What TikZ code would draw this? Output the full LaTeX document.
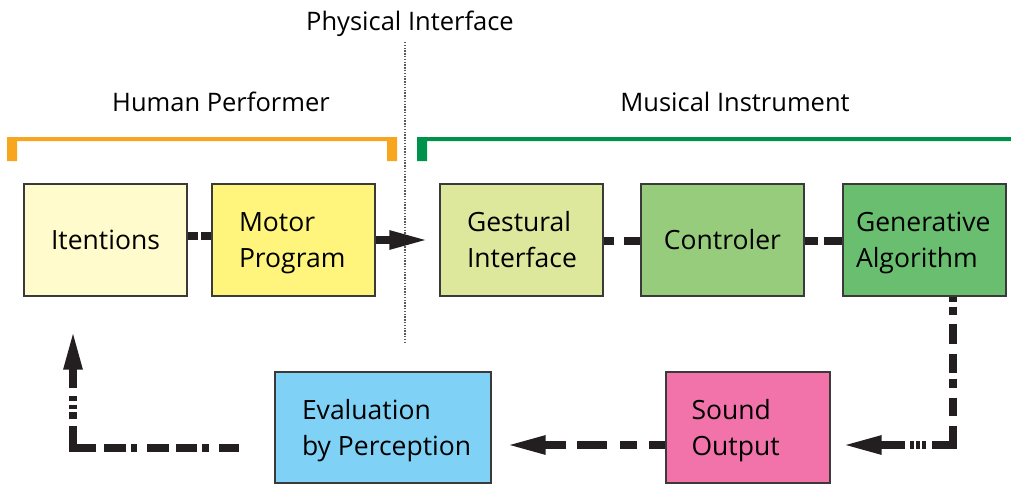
\documentclass[tikz,border=0pt]{standalone}
\usepackage{fontspec}
\setmainfont{Open Sans}
\usetikzlibrary{arrows.meta}
\definecolor{cIt}{HTML}{FFFBCC}
\definecolor{cMp}{HTML}{FFF57D}
\definecolor{cGi}{HTML}{DDE89C}
\definecolor{cCt}{HTML}{96CC7B}
\definecolor{cGa}{HTML}{69BF6F}
\definecolor{cEv}{HTML}{7FD2F6}
\definecolor{cSo}{HTML}{F173AA}
\definecolor{cOr}{HTML}{F8A51F}
\definecolor{cGr}{HTML}{00924A}
\definecolor{cLn}{HTML}{231F20}
\definecolor{cBd}{HTML}{3A3A3A}
\newcommand{\boxfnt}{\fontsize{26.5}{36}\selectfont\hyphenpenalty=10000 }
\newcommand{\headfnt}{\fontsize{25.5}{30}\selectfont}
\newcommand{\twoline}[3]{\parbox{#1}{\raggedright\vspace*{6pt}#2\\#3\vphantom{gp}}}
\tikzset{
  blk/.style={draw=cBd, line width=1.2pt, minimum width=163pt, minimum height=112pt,
    inner sep=0pt, font=\boxfnt, text=black},
  head/.style={font=\headfnt, anchor=base, inner sep=0pt, text=black},
  conn/.style={draw=cLn, line width=8pt},
  tip/.style={-{Triangle[length=40pt,width=17pt]}},
}
\begin{document}
\begin{tikzpicture}[x=1pt,y=-1pt]
\useasboundingbox (0,0) rectangle (1011,484);
% headers
\node[head] (phys) at (410,31) {Physical Interface};
\node[head] (hum) at (221,112) {Human Performer};
\node[head] (mus) at (735,112) {Musical Instrument};
% divider
\coordinate (dtop) at (405,42);
\coordinate (dbot) at (405,342);
\draw[draw=black!65, line width=1.2pt, dash pattern=on 1.4pt off 1.4pt] (dtop) -- (dbot);
% brackets
\fill[cOr] (7,137) -- (397,137) -- (397,161) -- (387,161) -- (387,141) -- (17,141) -- (17,161) -- (7,161) -- cycle;
\fill[cGr] (417,137) -- (1011,137) -- (1011,141) -- (427,141) -- (427,161) -- (417,161) -- cycle;
% boxes
\node[blk, fill=cIt] (it) at (105.5,240) {Itentions};
\node[blk, fill=cMp] (mp) at (293.5,240) {\twoline{109pt}{Motor}{Program}};
\node[blk, fill=cGi] (gi) at (521.5,240) {\twoline{109pt}{Gestural}{Interface}};
\node[blk, fill=cCt] (ct) at (722.5,240) {Controler};
\node[blk, fill=cGa] (ga) at (924.5,240) {\twoline{137pt}{Generative}{Algorithm}};
\node[blk, fill=cEv, minimum width=216pt, minimum height=111pt] (ev) at (383,427.5) {\twoline{162pt}{Evaluation}{\mbox{by Perception}}};
\node[blk, fill=cSo, minimum width=164pt, minimum height=111pt] (so) at (748,427.5) {\twoline{113pt}{Sound}{Output}};
% connectors
\draw[conn, dash pattern=on 10pt off 3pt] ([yshift=4pt]it.east) -- ([yshift=4pt]mp.west);
\draw[conn, tip, shorten >=10pt] (mp.east) -- (gi.west);
\draw[conn, dash pattern=on 10pt off 10pt on 18pt off 0pt] ([yshift=-1pt]gi.east) -- ([yshift=-1pt]ct.west);
\draw[conn, dash pattern=on 13pt off 6pt on 21pt off 0pt] ([yshift=-1pt]ct.east) -- ([yshift=-1pt]ga.west);
\coordinate (c2) at (953,445);
\draw[conn, tip, shorten >=11pt,
  dash pattern=on 5pt off 5pt on 8pt off 9pt on 20pt off 10pt on 19pt off 6pt on 9pt off 10pt on 18pt off 10pt on 40pt off 6pt on 4pt off 2pt on 4pt off 2pt on 4pt off 5pt on 200pt]
  (ga.south -| c2) -- (c2) -- (c2 -| so.east);
\draw[conn, tip, shorten >=14pt,
  dash pattern=on 16pt off 12pt on 17pt off 13pt on 30pt off 11pt on 200pt]
  ([yshift=-17.5pt]so.west) -- ([yshift=-17.5pt]ev.east);
\coordinate (c1) at (73,448);
\draw[conn, tip, shorten <=35pt, shorten >=33pt,
  dash pattern=on 20pt off 10pt on 7pt off 5pt on 21pt off 7pt on 22pt off 10pt on 6pt off 5pt on 22pt off 8pt on 45pt off 7pt on 7pt off 3pt on 4pt off 4pt on 5pt off 8pt on 200pt]
  (ev.west |- c1) -- (c1) -- (it.south -| c1);
\end{tikzpicture}
\end{document}
